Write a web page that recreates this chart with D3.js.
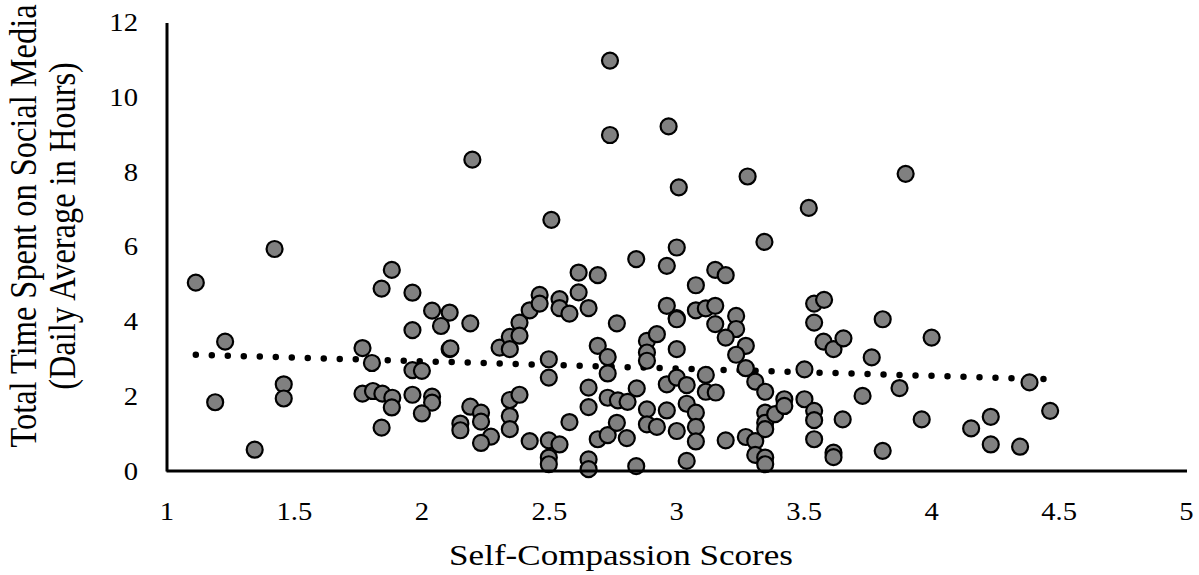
<!DOCTYPE html>
<meta charset="utf-8">
<style>
  body { margin: 0; background: #fff; }
  text { font-family: "Liberation Serif", "Times New Roman", serif; fill: #000; }
  .axis path { stroke: #000; stroke-width: 3px; }
</style>
<svg width="1199" height="575"></svg>
<script src="https://d3js.org/d3.v7.min.js"></script>
<script>
  // self-compassion score (x) and daily hours on social media (y)
  var scores = [
    1.115, 1.424, 1.230, 1.191, 1.460, 1.460, 1.346,
    1.884, 1.844, 1.965, 2.042, 2.111, 2.077, 1.965, 2.111, 1.769, 1.806, 1.965, 2.002,
    1.769, 1.810, 1.847, 1.886, 1.884, 1.844, 1.965, 2.042, 2.042, 2.002,
    2.192, 2.114, 2.192, 2.234, 2.234, 2.153, 2.153, 2.273, 2.234, 2.425,
    2.347, 2.385, 2.347, 2.347, 2.307, 2.347, 2.347, 2.385, 2.385, 2.425, 2.464, 2.464,
    2.542, 2.542, 2.581, 2.617, 2.692, 2.617, 2.656, 2.500, 2.500, 2.767,
    2.843, 2.963, 3.002, 2.963, 3.002, 2.692, 2.731, 2.731, 2.656, 2.656, 2.581,
    2.500, 2.542, 2.500, 2.500, 2.656, 2.656, 2.692, 2.731, 2.767, 2.806, 2.843,
    2.731, 2.771, 2.809, 2.845, 2.885, 2.924, 2.885, 2.885, 2.963, 3.002, 3.002,
    2.885, 2.885, 2.924, 2.963, 3.002,
    3.346, 3.153, 3.194, 3.077, 3.002, 3.077, 3.116, 3.153, 3.153, 3.235, 3.235,
    3.194, 3.273, 3.235, 3.273, 3.503, 3.041, 3.116, 3.116, 3.155, 3.310, 3.349,
    3.041, 3.077, 3.077, 3.077, 3.041, 3.194, 3.273, 3.310, 3.310, 3.349, 3.349,
    3.349, 3.349, 3.349, 3.388, 3.424, 3.424, 3.503, 3.541, 3.541, 3.541, 3.617,
    3.617, 3.653, 3.731, 3.767, 3.810, 3.810, 3.876, 3.541, 3.580, 3.541, 3.578,
    3.617, 3.656,
    4.002, 3.963, 4.234, 4.157, 4.234, 4.349, 4.386, 4.467,
    2.740, 2.740, 2.970, 2.200, 3.010, 3.280, 3.900, 3.520, 2.510
  ];
  var hours = [
    5.04, 5.94, 3.46, 1.84, 2.32, 1.94, 0.57,
    5.38, 4.88, 4.77, 4.29, 4.24, 3.88, 3.77, 3.26, 3.29, 2.89, 2.70, 2.68,
    2.07, 2.14, 2.07, 1.96, 1.70, 1.16, 2.04, 1.99, 1.83, 1.54,
    3.95, 3.28, 1.72, 1.56, 1.32, 1.27, 1.09, 0.92, 0.75, 0.80,
    1.90, 2.04, 1.47, 1.12, 3.30, 3.59, 3.26, 3.97, 3.62, 4.30, 4.71, 4.48,
    4.60, 4.36, 4.21, 5.31, 5.24, 4.78, 4.36, 2.99, 2.50, 3.95,
    5.67, 5.49, 5.98, 4.42, 4.09, 3.35, 3.05, 2.61, 2.23, 1.71, 1.31,
    0.82, 0.71, 0.36, 0.18, 0.31, 0.05, 0.85, 0.96, 1.29, 0.88, 0.13,
    1.96, 1.89, 1.85, 2.21, 3.48, 3.66, 3.17, 2.95, 2.32, 2.50, 3.26,
    1.65, 1.25, 1.18, 1.62, 1.07,
    6.13, 5.38, 5.24, 4.97, 4.06, 4.30, 4.35, 4.42, 3.93, 4.15, 3.80,
    3.57, 3.35, 3.11, 2.75, 2.72, 2.30, 2.57, 2.12, 2.10, 2.39, 2.12,
    1.80, 1.56, 1.18, 0.79, 0.27, 0.82, 0.91, 0.80, 0.43, 0.36, 0.18,
    1.56, 1.29, 1.12, 1.52, 1.92, 1.74, 1.92, 1.61, 1.36, 0.85, 0.49,
    0.37, 1.38, 2.01, 3.04, 4.06, 0.54, 2.22, 4.48, 4.58, 3.97, 3.46,
    3.26, 3.55,
    3.57, 1.38, 1.45, 1.14, 0.71, 0.65, 2.37, 1.61,
    10.98, 8.99, 9.22, 8.33, 7.59, 7.88, 7.95, 7.04, 6.72
  ];

  // linear trend line end points
  var trendX = [1.115, 4.467];
  var trendY = [3.11, 2.455];

  var xTicks = [1, 1.5, 2, 2.5, 3, 3.5, 4, 4.5, 5];
  var yTicks = [0, 2, 4, 6, 8, 10, 12];

  var svg = d3.select("svg");
  var stretch = 1.17;   // the original picture is a bit wider than tall

  var x = d3.scaleLinear().domain([1, 5]).range([166.5, 1186]);
  var y = d3.scaleLinear().domain([0, 12]).range([471, 22.5]);

  var points = scores.map(function (d, i) { return [d, hours[i]]; });

  // trend line first, points sit on top
  var line = d3.line()
    .x(function (d) { return x(d[0]); })
    .y(function (d) { return y(d[1]); });

  svg.append("path")
    .datum(trendX.map(function (d, i) { return [d, trendY[i]]; }))
    .attr("fill", "none")
    .attr("stroke", "#000")
    .attr("stroke-width", 6.5)
    .attr("stroke-linecap", "round")
    .attr("stroke-dasharray", "0,16")
    .attr("d", line);

  svg.append("g")
    .selectAll("circle")
    .data(points)
    .enter()
    .append("circle")
    .attr("cx", function (d) { return x(d[0]); })
    .attr("cy", function (d) { return y(d[1]); })
    .attr("r", 8)
    .attr("fill", "#808080")
    .attr("stroke", "#000")
    .attr("stroke-width", 2.2);

  var xAxis = d3.axisBottom(x)
    .tickValues(xTicks)
    .tickSize(0)
    .tickFormat(d3.format("~g"));

  var yAxis = d3.axisLeft(y)
    .tickValues(yTicks)
    .tickSize(0)
    .tickFormat(d3.format("d"));

  var gx = svg.append("g")
    .attr("class", "axis axis--x")
    .attr("transform", "translate(0," + y(0) + ")")
    .call(xAxis);
  gx.select(".domain").attr("d", "M" + x(1) + ",0H1187");
  gx.selectAll("text")
    .attr("y", 49)
    .attr("dy", null)
    .attr("transform", "scale(" + stretch + ",1)")
    .style("font-size", "24.5px");

  var gy = svg.append("g")
    .attr("class", "axis axis--y")
    .attr("transform", "translate(" + x(1) + ",0)")
    .call(yAxis);
  gy.selectAll("text")
    .attr("x", -28.5 / stretch)
    .attr("dy", "0.33em")
    .attr("transform", "scale(" + stretch + ",1)")
    .style("font-size", "24.5px");

  svg.selectAll(".axis").attr("font-family", null).attr("font-size", null);

  // axis titles
  svg.append("text")
    .attr("transform", "translate(621,565) scale(" + stretch + ",1)")
    .attr("text-anchor", "middle")
    .style("font-size", "30px")
    .text("Self-Compassion Scores");

  var yTitle = svg.append("text")
    .attr("transform", "translate(0,226) rotate(-90) scale(1," + stretch + ")")
    .attr("text-anchor", "middle")
    .style("font-size", "32.4px");
  yTitle.append("tspan").attr("x", 0).attr("y", 36 / stretch).text("Total Time Spent on Social Media");
  yTitle.append("tspan").attr("x", 0).attr("y", 75 / stretch).text("(Daily Average in Hours)");
</script>
